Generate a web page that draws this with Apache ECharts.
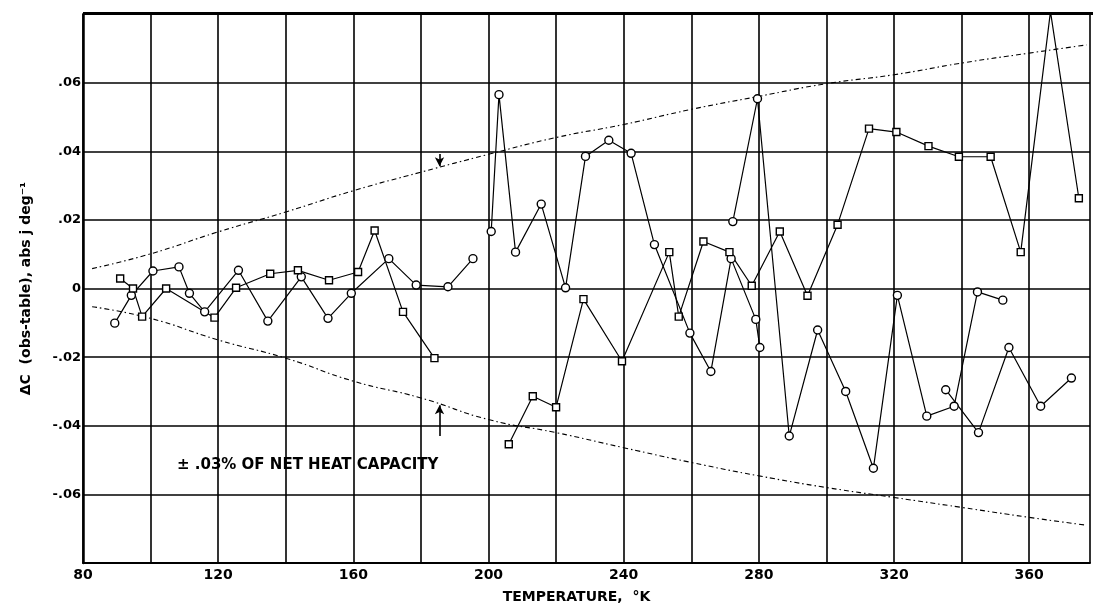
<!DOCTYPE html>
<html>
<head>
<meta charset="utf-8">
<script src="https://cdn.jsdelivr.net/npm/echarts@6/dist/echarts.min.js"></script>
<style>html,body{margin:0;padding:0;background:#fff;}#c{width:1093px;height:609px;}</style>
</head>
<body>
<div id="c"></div>
<script>
// ---- data ----
var xTickLabels = ['80','120','160','200','240','280','320','360'];
var yTickLabels = ['-.06','-.04','-.02','0','.02','.04','.06'];

// low-temperature run 1 (circles)
var run1T = [89.4, 94.3, 100.7, 108.4, 111.5, 116.0, 126.0, 134.7, 144.6, 152.5, 159.4, 170.5, 178.6, 188.0, 195.4];
var run1V = [-0.0101, -0.0020, 0.0051, 0.0063, -0.0014, -0.0068, 0.0053, -0.0095, 0.0034, -0.0087, -0.0014, 0.0087, 0.0010, 0.0005, 0.0087];
// low-temperature run 2 (squares)
var run2T = [91.0, 94.8, 97.5, 104.6, 118.9, 125.3, 135.4, 143.6, 152.8, 161.4, 166.3, 174.7, 184.0];
var run2V = [0.0029, 0.0000, -0.0082, 0.0000, -0.0085, 0.0002, 0.0043, 0.0053, 0.0024, 0.0048, 0.0169, -0.0068, -0.0203];
// high-temperature run 3 (circles)
var run3T = [200.8, 203.1, 208.0, 215.6, 222.8, 228.7, 235.6, 242.2, 249.1, 259.6, 265.8, 271.8, 279.1, 280.3];
var run3V = [0.0166, 0.0565, 0.0106, 0.0246, 0.0002, 0.0385, 0.0432, 0.0394, 0.0128, -0.0130, -0.0242, 0.0087, -0.0090, -0.0172];
// high-temperature run 4 (squares)
var run4T = [206.0, 213.1, 220.0, 228.1, 239.5, 253.5, 256.3, 263.6, 271.3, 277.9, 286.2, 294.4, 303.3, 312.6, 320.7, 330.2, 339.2, 348.6, 357.5, 366.3, 374.7];
var run4V = [-0.0454, -0.0314, -0.0346, -0.0031, -0.0212, 0.0106, -0.0082, 0.0137, 0.0106, 0.0008, 0.0166, -0.0021, 0.0186, 0.0466, 0.0456, 0.0415, 0.0384, 0.0384, 0.0106, 0.0807, 0.0263];
// high-temperature run 5 (circles)
var run5T = [272.3, 279.6, 289.0, 297.4, 305.7, 313.9, 321.0, 329.7, 337.8, 344.7, 352.2];
var run5V = [0.0195, 0.0553, -0.0430, -0.0121, -0.0300, -0.0524, -0.0020, -0.0372, -0.0343, -0.0010, -0.0034];
// high-temperature run 6 (circles)
var run6T = [335.3, 345.0, 354.0, 363.4, 372.5];
var run6V = [-0.0295, -0.0420, -0.0172, -0.0343, -0.0261];

// +/- .03% of net heat capacity envelope
var envT = [82.7, 100, 120, 140, 160, 180, 200, 220, 240, 260, 280, 300, 320, 340, 360, 377];
var envUpper = [0.0058, 0.0101, 0.0165, 0.0223, 0.0285, 0.0339, 0.0391, 0.0440, 0.0478, 0.0522, 0.0560, 0.0597, 0.0623, 0.0657, 0.0686, 0.0710];
var envLower = [-0.0053, -0.0087, -0.0150, -0.0203, -0.0270, -0.0319, -0.0382, -0.0420, -0.0464, -0.0507, -0.0546, -0.0580, -0.0609, -0.0638, -0.0667, -0.0690];

var arrowT = 185.5;
var arrowUp = [0.0392, 0.0356];
var arrowDown = [-0.0430, -0.0340];

function zip(a, b) { return a.map(function (v, i) { return [v, b[i]]; }); }

var FONT = 'DejaVu Sans';
var chart = echarts.init(document.getElementById('c'), null, { renderer: 'canvas' });

function runSeries(t, v, sym) {
  return {
    type: 'line', data: zip(t, v), symbol: sym, symbolSize: sym === 'rect' ? 7 : 8,
    lineStyle: { color: '#000', width: 1.2 },
    itemStyle: { color: '#fff', borderColor: '#000', borderWidth: 1.4 },
    z: 5, animation: false
  };
}
function envSeries(t, v, arrow) {
  var s = {
    type: 'line', data: zip(t, v), symbol: 'none', smooth: true,
    lineStyle: { color: '#000', width: 1.1, type: [5, 3, 1.5, 3] },
    z: 3, animation: false
  };
  if (arrow) {
    s.markLine = {
      silent: true, symbol: ['none', 'arrow'], symbolSize: [7, 9],
      label: { show: false },
      lineStyle: { color: '#000', width: 1.6, type: 'solid' },
      data: [[{ coord: [arrowT, arrow[0]] }, { coord: [arrowT, arrow[1]] }]]
    };
  }
  return s;
}

chart.setOption({
  animation: false,
  backgroundColor: '#fff',
  grid: { left: 83, top: 14, right: 3, bottom: 43 },
  xAxis: {
    type: 'value', min: 80, max: 378, interval: 20,
    name: 'TEMPERATURE,  °K', nameLocation: 'middle', nameGap: 27,
    nameTextStyle: { fontFamily: FONT, fontWeight: 'bold', fontSize: 14, color: '#000', padding: [0, 20, 0, 0] },
    axisLine: { show: true, onZero: false, lineStyle: { color: '#000', width: 2 } },
    axisTick: { show: false },
    axisLabel: {
      margin: 5, fontFamily: FONT, fontWeight: 'bold', fontSize: 14, color: '#000',
      showMaxLabel: false,
      formatter: function (v) { var s = String(Math.round(v)); return xTickLabels.indexOf(s) >= 0 ? s : ''; }
    },
    splitLine: { show: true, lineStyle: { color: '#000', width: 1.6 } }
  },
  yAxis: {
    type: 'value', min: -0.08, max: 0.08, interval: 0.02,
    name: 'ΔC  (obs-table), abs j deg⁻¹', nameLocation: 'middle', nameGap: 50, nameRotate: 90,
    nameTextStyle: { fontFamily: FONT, fontWeight: 'bold', fontSize: 14, color: '#000' },
    axisLine: { show: true, onZero: false, lineStyle: { color: '#000', width: 2.5 } },
    axisTick: { show: false },
    axisLabel: {
      margin: 2, fontFamily: FONT, fontWeight: 'bold', fontSize: 13, color: '#000',
      formatter: function (v) {
        var r = Math.round(v * 100);
        var s = r === 0 ? '0' : (r < 0 ? '-' : '') + '.' + ('0' + Math.abs(r)).slice(-2);
        return yTickLabels.indexOf(s) >= 0 ? s : '';
      }
    },
    splitLine: { show: true, lineStyle: { color: '#000', width: 1.6 } }
  },
  graphic: [
    { type: 'rect', left: 83, top: 12, shape: { width: 1010, height: 3 }, style: { fill: '#000' }, z: 10 },
    { type: 'text', left: 177, top: 458, style: { text: '± .03% OF NET HEAT CAPACITY', fontFamily: FONT, fontWeight: 'bold', fontSize: 15, fill: '#000' }, z: 10 }
  ],
  series: [
    envSeries(envT, envUpper, arrowUp),
    envSeries(envT, envLower, arrowDown),
    runSeries(run1T, run1V, 'circle'),
    runSeries(run2T, run2V, 'rect'),
    runSeries(run3T, run3V, 'circle'),
    runSeries(run4T, run4V, 'rect'),
    runSeries(run5T, run5V, 'circle'),
    runSeries(run6T, run6V, 'circle')
  ]
});
</script>
</body>
</html>
